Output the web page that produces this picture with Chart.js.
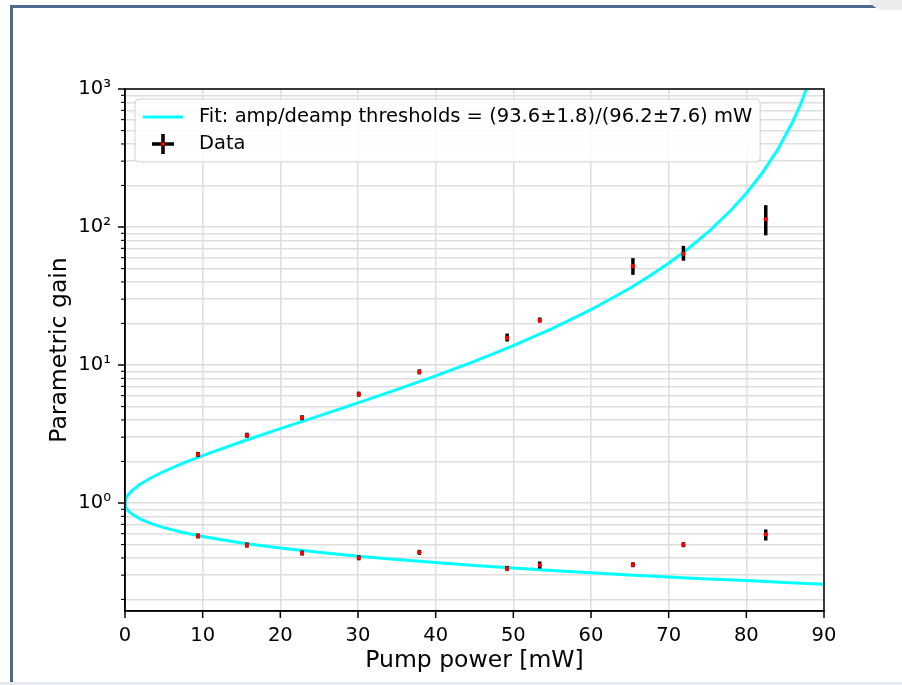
<!DOCTYPE html>
<html>
<head>
<meta charset="utf-8">
<script src="https://cdn.jsdelivr.net/npm/chart.js@4.4.0/dist/chart.umd.min.js"></script>
<style>
  html, body { margin: 0; padding: 0; background: #fff; }
  body { width: 902px; height: 685px; position: relative; overflow: hidden; }
  #frame { position: absolute; left: 10px; top: 5px; width: 900px; height: 700px;
           border-top: 3px solid #4e6b8f; border-left: 3px solid #4e6b8f; }
  #corner { position: absolute; left: 868px; top: -10px; width: 60px; height: 20px;
            background: #ececec; border-radius: 0 0 0 16px; }
  #bottomline { position: absolute; left: 0; top: 682px; width: 902px; height: 3px; background: #e7ebf0; }
  #myChart { position: absolute; left: 0; top: 0; }
</style>
</head>
<body>
<div id="frame"></div>
<div id="corner"></div>
<div id="bottomline"></div>
<canvas id="myChart" width="902" height="685"></canvas>
<script>
// measured gain vs pump power (mW)
const pumpPower = [9.4, 15.7, 22.8, 30.1, 37.9, 49.2, 53.4, 65.4, 71.9, 82.5];
const ampGain   = [2.25, 3.1, 4.15, 6.15, 8.9, 15.7, 21.0, 52, 64, 114];
const ampLow    = [2.23, 3.06, 4.09, 6.06, 8.55, 14.8, 20.3, 45, 57, 87];
const ampHigh   = [2.27, 3.14, 4.21, 6.24, 9.3, 16.9, 22.1, 59.5, 73, 144];
const deampGain = [0.577, 0.496, 0.434, 0.401, 0.439, 0.336, 0.355, 0.357, 0.499, 0.593];
const deampLow  = [0.575, 0.494, 0.432, 0.399, 0.437, 0.334, 0.335, 0.355, 0.497, 0.535];
const deampHigh = [0.579, 0.498, 0.436, 0.403, 0.441, 0.338, 0.377, 0.359, 0.501, 0.643];

// fit curve (amp branch and deamp branch)
const fitAmpPower = [0, 0.01, 0.05, 0.1, 0.2, 0.3, 0.5, 1, 2, 3.5, 5, 7.5, 10, 15, 20, 25, 30, 35, 40, 45, 50, 55, 60, 65, 67.5, 70, 72.5, 75, 78, 80, 82, 84, 86, 87, 88.5];
const fitAmpGain  = [1, 1.021, 1.048, 1.069, 1.099, 1.124, 1.164, 1.244, 1.372, 1.537, 1.692, 1.946, 2.207, 2.781, 3.458, 4.283, 5.313, 6.625, 8.340, 10.64, 13.81, 18.35, 25.16, 36.0, 43.98, 54.7, 69.56, 90.9, 131.7, 175.4, 244.0, 360.5, 581.8, 775.9, 1310];
const fitDeampPower = [0, 0.01, 0.05, 0.1, 0.2, 0.3, 0.5, 1, 2, 3.5, 5, 7.5, 10, 15, 20, 25, 30, 35, 40, 45, 50, 55, 60, 65, 70, 75, 80, 85, 90];
const fitDeampGain  = [1, 0.980, 0.956, 0.939, 0.915, 0.897, 0.870, 0.824, 0.764, 0.705, 0.663, 0.611, 0.572, 0.514, 0.472, 0.439, 0.412, 0.389, 0.370, 0.353, 0.338, 0.324, 0.312, 0.301, 0.291, 0.282, 0.274, 0.266, 0.258];

const fitLabel = 'Fit: amp/deamp thresholds = (93.6±1.8)/(96.2±7.6) mW';
const dataLabel = 'Data';

const sup = { '-1': '⁻¹', '0': '⁰', '1': '¹', '2': '²', '3': '³' };
const yTickValues = [];
for (let e = -1; e <= 2; e++) {
  for (let m = 1; m <= 9; m++) {
    const v = +(m * Math.pow(10, e)).toPrecision(3);
    if (v >= 0.165) yTickValues.push(v);
  }
}
yTickValues.push(1000);

function isPow10(v) {
  const l = Math.log10(v);
  return Math.abs(l - Math.round(l)) < 1e-9;
}

const points = pumpPower.map((p, i) => ({ x: p, y: ampGain[i] }))
  .concat(pumpPower.map((p, i) => ({ x: p, y: deampGain[i] })));
const errLow = ampLow.concat(deampLow);
const errHigh = ampHigh.concat(deampHigh);

const fitPoints = fitAmpPower.map((p, i) => ({ x: p, y: fitAmpGain[i] })).reverse()
  .concat(fitDeampPower.slice(1).map((p, i) => ({ x: p, y: fitDeampGain[i + 1] })));

const FONT = 'DejaVu Sans';

// black vertical error bars, drawn under the red markers
const errorBars = {
  id: 'errorBars',
  beforeDatasetDraw(chart, args) {
    if (args.index !== 0) return;
    const { ctx, scales: { x, y } } = chart;
    ctx.save();
    ctx.strokeStyle = '#000';
    ctx.lineWidth = 3.5;
    ctx.lineCap = 'butt';
    points.forEach((pt, i) => {
      const px = x.getPixelForValue(pt.x);
      let y1 = y.getPixelForValue(errLow[i]);
      let y2 = y.getPixelForValue(errHigh[i]);
      // never thinner than the marker, like the capped matplotlib bars
      const mid = (y1 + y2) / 2;
      if (Math.abs(y1 - y2) < 5) { y1 = mid + 2.5; y2 = mid - 2.5; }
      ctx.beginPath();
      ctx.moveTo(px, y1);
      ctx.lineTo(px, y2);
      ctx.stroke();
    });
    ctx.restore();
  }
};

// spines on all four sides + outward tick marks
const axisDecor = {
  id: 'axisDecor',
  afterDatasetsDraw(chart) {
    const { ctx, chartArea: a, scales: { x, y } } = chart;
    ctx.save();
    ctx.strokeStyle = '#000';
    ctx.lineWidth = 1.5;
    ctx.strokeRect(a.left, a.top, a.right - a.left, a.bottom - a.top);
    x.ticks.forEach(t => {
      const px = x.getPixelForValue(t.value);
      ctx.beginPath();
      ctx.moveTo(px, a.bottom);
      ctx.lineTo(px, a.bottom + 7);
      ctx.stroke();
    });
    y.ticks.forEach(t => {
      const py = y.getPixelForValue(t.value);
      const major = isPow10(t.value);
      ctx.lineWidth = major ? 1.5 : 1.1;
      ctx.beginPath();
      ctx.moveTo(a.left - (major ? 7 : 4), py);
      ctx.lineTo(a.left, py);
      ctx.stroke();
    });
    ctx.restore();
  }
};

// matplotlib-like legend box in the upper left
const legendBox = {
  id: 'legendBox',
  afterDraw(chart) {
    const { ctx, chartArea: a } = chart;
    ctx.save();
    ctx.font = '19.5px "' + FONT + '"';
    const textX = a.left + 74;
    const w = ctx.measureText(fitLabel).width + 74 - 10 + 8;
    const bx = a.left + 10, by = a.top + 10, bh = 63;
    ctx.beginPath();
    ctx.roundRect(bx, by, w, bh, 4);
    ctx.fillStyle = 'rgba(255,255,255,0.85)';
    ctx.fill();
    ctx.strokeStyle = '#d0d0d0';
    ctx.lineWidth = 1;
    ctx.stroke();

    const r1 = by + 18, r2 = by + 45;
    ctx.strokeStyle = '#00ffff';
    ctx.lineWidth = 3;
    ctx.beginPath();
    ctx.moveTo(bx + 8, r1);
    ctx.lineTo(bx + 48, r1);
    ctx.stroke();

    const cx = bx + 28;
    ctx.strokeStyle = '#000';
    ctx.lineWidth = 3.5;
    ctx.beginPath();
    ctx.moveTo(cx, r2 - 10);
    ctx.lineTo(cx, r2 + 10);
    ctx.moveTo(cx - 11, r2);
    ctx.lineTo(cx + 11, r2);
    ctx.stroke();
    ctx.fillStyle = '#ff0000';
    ctx.beginPath();
    ctx.arc(cx, r2, 2, 0, Math.PI * 2);
    ctx.fill();

    ctx.fillStyle = '#000';
    ctx.textBaseline = 'middle';
    ctx.fillText(fitLabel, textX, r1);
    ctx.fillText(dataLabel, textX, r2);
    ctx.restore();
  }
};

const ctx = document.getElementById('myChart');

new Chart(ctx, {
  type: 'scatter',
  data: {
    datasets: [
      {
        label: dataLabel,
        data: points,
        showLine: false,
        pointStyle: 'circle',
        pointRadius: 2.2,
        backgroundColor: '#ff0000',
        borderWidth: 0,
      },
      {
        label: fitLabel,
        data: fitPoints,
        showLine: true,
        borderColor: '#00ffff',
        borderWidth: 3,
        pointRadius: 0,
        tension: 0,
        fill: false,
      },
    ],
  },
  options: {
    responsive: false,
    animation: false,
    devicePixelRatio: 1,
    layout: { padding: { left: 0, top: 89, right: 78, bottom: 0 } },
    plugins: {
      legend: { display: false },
      tooltip: { enabled: false },
    },
    scales: {
      x: {
        type: 'linear',
        min: 0,
        max: 90,
        afterFit(s) { s.height = 74; },
        ticks: {
          stepSize: 10,
          color: '#000',
          padding: 13,
          font: { family: FONT, size: 19.5 },
        },
        grid: { color: '#dedede', lineWidth: 1.5, drawTicks: false },
        border: { color: '#000', width: 1.5 },
        title: {
          display: true,
          text: 'Pump power [mW]',
          color: '#000',
          font: { family: FONT, size: 23.5 },
          padding: { top: 0, bottom: 10 },
        },
      },
      y: {
        type: 'logarithmic',
        min: 0.165,
        max: 1000,
        afterFit(s) { s.width = 125; },
        afterBuildTicks(s) {
          s.ticks = yTickValues.map(v => ({ value: v, major: isPow10(v) }));
        },
        ticks: {
          autoSkip: false,
          color: '#000',
          padding: 14,
          font: { family: FONT, size: 19.5 },
          callback: (v) => isPow10(v) ? '10' + sup[String(Math.round(Math.log10(v)))] : '',
        },
        grid: { color: '#dedede', lineWidth: 1.5, drawTicks: false },
        border: { color: '#000', width: 1.5 },
        title: {
          display: true,
          text: 'Parametric gain',
          color: '#000',
          font: { family: FONT, size: 23.5 },
          padding: { top: 46, bottom: 0 },
        },
      },
    },
  },
  plugins: [errorBars, axisDecor, legendBox],
});
</script>
</body>
</html>
